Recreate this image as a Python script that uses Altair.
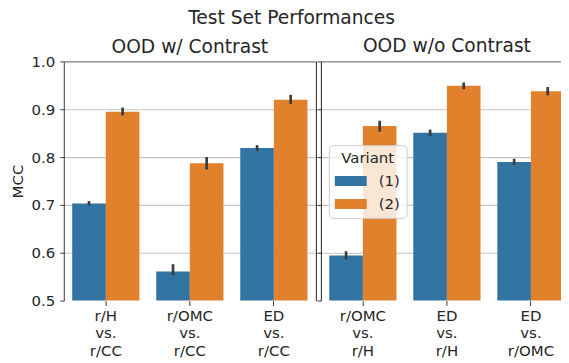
import altair as alt
import pandas as pd

# ---------------- data ----------------
panels = ["OOD w/ Contrast", "OOD w/o Contrast"]
pairs_contrast = ["r/H vs. r/CC", "r/OMC vs. r/CC", "ED vs. r/CC"]
pairs_no_contrast = ["r/OMC vs. r/H", "ED vs. r/H", "ED vs. r/OMC"]
variants = ["(1)", "(2)"]

mcc_contrast_v1 = [0.703, 0.561, 0.819]
mcc_contrast_v2 = [0.895, 0.787, 0.920]
lo_contrast_v1 = [0.699, 0.553, 0.8125]
hi_contrast_v1 = [0.708, 0.576, 0.825]
lo_contrast_v2 = [0.887, 0.774, 0.911]
hi_contrast_v2 = [0.9035, 0.800, 0.930]

mcc_nocontrast_v1 = [0.594, 0.851, 0.790]
mcc_nocontrast_v2 = [0.865, 0.949, 0.9375]
lo_nocontrast_v1 = [0.586, 0.844, 0.784]
hi_nocontrast_v1 = [0.603, 0.8575, 0.7965]
lo_nocontrast_v2 = [0.853, 0.942, 0.929]
hi_nocontrast_v2 = [0.876, 0.956, 0.9465]

y_ticks = [0.5, 0.6, 0.7, 0.8, 0.9, 1.0]
colors = ["#3274a1", "#e1812c"]

FONT = "DejaVu Sans"
TXT = "#262626"
AX = "#3a3a3a"


def frame(pairs, v1, v2, lo1, hi1, lo2, hi2):
    rows = []
    for i, p in enumerate(pairs):
        rows.append(dict(pair=p, variant=variants[0], mcc=v1[i], lo=lo1[i], hi=hi1[i]))
        rows.append(dict(pair=p, variant=variants[1], mcc=v2[i], lo=lo2[i], hi=hi2[i]))
    return pd.DataFrame(rows)


df_left = frame(pairs_contrast, mcc_contrast_v1, mcc_contrast_v2,
                lo_contrast_v1, hi_contrast_v1, lo_contrast_v2, hi_contrast_v2)
df_right = frame(pairs_no_contrast, mcc_nocontrast_v1, mcc_nocontrast_v2,
                 lo_nocontrast_v1, hi_nocontrast_v1, lo_nocontrast_v2, hi_nocontrast_v2)

grid_color = {"condition": {"test": "datum.value >= 0.999", "value": "#7a7a7a"}, "value": "#c4c4c4"}
grid_opacity = {"condition": {"test": "datum.value <= 0.501", "value": 0}, "value": 1}

y_scale = alt.Scale(domain=[0.5, 1.0], nice=False, zero=False)


def x_enc(pairs, scale):
    return alt.X(
        "pair:N", sort=pairs, scale=scale,
        axis=alt.Axis(title=None, labelAngle=0, labelExpr="split(datum.label, ' ')",
                      labelFontSize=15, labelLineHeight=17.5, labelColor=TXT,
                      tickSize=5, tickColor=AX, domain=False, labelPadding=3,
                      grid=False),
    )


def xoff():
    return alt.XOffset("variant:N", sort=variants,
                       scale=alt.Scale(paddingInner=0, paddingOuter=0))


def color_enc(legend):
    return alt.Color("variant:N", scale=alt.Scale(domain=variants, range=colors),
                     legend=legend)


left_yaxis = alt.Axis(values=y_ticks, format=".1f", title="MCC", titleFontSize=15,
                      titleFontWeight="normal", titleColor=TXT, titlePadding=6,
                      labelFontSize=15, labelColor=TXT, labelPadding=5,
                      tickSize=4, tickColor=AX, domainColor=AX,
                      grid=True, gridColor=grid_color, gridOpacity=grid_opacity,
                      gridWidth=1.2)
left_right_axis = alt.Axis(orient="right", values=y_ticks, title=None, labels=False,
                           ticks=False, domain=True, domainColor="#222222", grid=False)
right_yaxis = alt.Axis(values=y_ticks, title=None, labels=False,
                       tickSize=4, tickColor=AX, domainColor="#222222",
                       grid=True, gridColor=grid_color, gridOpacity=grid_opacity,
                       gridWidth=1.2)

sub_title = dict(fontSize=18.7, fontWeight="normal", font=FONT, color=TXT,
                 baseline="bottom")

# ---------- left panel ----------
band_scale = dict(paddingInner=0.2, paddingOuter=0.1)
left_bars = alt.Chart(df_left).mark_bar(clip=True).encode(
    x=x_enc(pairs_contrast, alt.Scale(**band_scale)),
    xOffset=xoff(),
    y=alt.Y("mcc:Q", scale=y_scale, axis=left_yaxis),
    color=color_enc(None),
)
left_err = alt.Chart(df_left).mark_rule(color="#3c3c3c", strokeWidth=2.7).encode(
    x=x_enc(pairs_contrast, alt.Scale(**band_scale)),
    xOffset=xoff(),
    y=alt.Y("lo:Q", scale=y_scale, axis=left_right_axis),
    y2="hi:Q",
)
left = alt.layer(left_bars, left_err).resolve_axis(y="independent").properties(
    width=253, height=240,
    title=alt.TitleParams(text=panels[0], offset=-21.5, **sub_title),
)

# ---------- right panel ----------
legend = alt.Legend(
    title="Variant", orient="none", legendX=8, legendY=84,
    symbolType="M-1,-0.625H3V0.625H-1Z", symbolSize=256, symbolStrokeWidth=0,
    symbolOpacity=1, labelOffset=28, padding=6, rowPadding=7, titlePadding=7,
    titleAnchor="middle", fillColor="rgba(255,255,255,0.8)", strokeColor="#cccccc",
    cornerRadius=4, titleFontSize=15, titleFontWeight="normal", titleColor=TXT,
    labelFontSize=15, labelColor=TXT,
)
right_bars = alt.Chart(df_right).mark_bar(clip=True).encode(
    x=x_enc(pairs_no_contrast, alt.Scale(**band_scale)),
    xOffset=xoff(),
    y=alt.Y("mcc:Q", scale=y_scale, axis=right_yaxis),
    color=color_enc(legend),
)
right_err = alt.Chart(df_right).mark_rule(color="#3c3c3c", strokeWidth=2.7).encode(
    x=x_enc(pairs_no_contrast, alt.Scale(**band_scale)),
    xOffset=xoff(),
    y=alt.Y("lo:Q", scale=y_scale, axis=right_yaxis),
    y2="hi:Q",
)
right = alt.layer(right_bars, right_err).properties(
    width=253, height=240,
    title=alt.TitleParams(text=panels[1], offset=-14, **sub_title),
)

chart = alt.hconcat(left, right, spacing=0).resolve_scale(
    color="independent"
).properties(
    title=alt.TitleParams(text="Test Set Performances", fontSize=18.7, fontWeight="normal",
                          font=FONT, color=TXT, anchor="middle", baseline="bottom",
                          offset=-9),
    padding={"left": 2, "top": 0, "right": -12, "bottom": 0},
).configure_view(stroke=None).configure_axis(
    labelFont=FONT, titleFont=FONT
).configure_legend(labelFont=FONT, titleFont=FONT).configure_title(font=FONT)

chart.save("out.html", embed_options={"renderer": "svg", "actions": False})
